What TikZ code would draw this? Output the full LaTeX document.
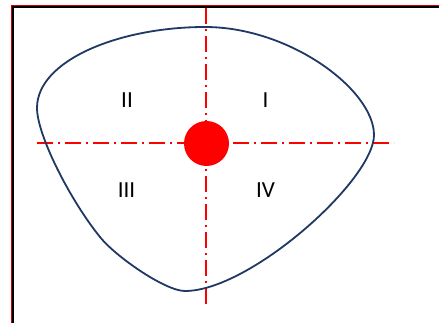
\documentclass[tikz,border=0pt]{standalone}
\usepackage{fontspec}
\setmainfont{Carlito}
\definecolor{navy}{RGB}{31,56,100}
\begin{document}
\begin{tikzpicture}[x=1pt,y=-1pt,
  axis/.style={draw=red, line width=1.6pt, dash pattern=on 16pt off 5pt on 2pt off 5pt},
  blob/.style={draw=navy, line width=1.8pt},
  quad/.style={font=\fontsize{23}{23}\selectfont, inner sep=0pt}]
\useasboundingbox (0,0) rectangle (439,323);
\fill[white] (0,0) rectangle (439,323);
% frame
\draw[red!80!black, line width=0.7pt] (11.5,323) -- (11.5,5.5) -- (439,5.5);
\draw[black, line width=1.8pt] (13,323) -- (13,7) -- (439,7);
% axes
\coordinate (hl) at (37,143);
\coordinate (hr) at (394,143);
\coordinate (vt) at (206,8);
\coordinate (vb) at (206,304);
\path[axis] (hl) -- (hr);
\path[axis] (vt) -- (vb);
% blob
\coordinate (L) at (37,108);
\coordinate (T) at (205,27);
\coordinate (R) at (374,135);
\coordinate (B) at (185,291);
\coordinate (M) at (100,237);
\path[blob] (L) .. controls (37,60) and (120,27) .. (T)
  .. controls (290,27) and (374,90) .. (R)
  .. controls (374,180) and (250,291) .. (B)
  .. controls (165,291) and (115,256) .. (M)
  .. controls (70,200) and (37,135) .. (L) -- cycle;
% center
\fill[red] (206.5,143.5) circle (22.5);
\node (c) at (206.5,143.5) {};
% labels
\node[quad] (q1) at (265.5,100.5) {I};
\node[quad] (q2) at (127,100.5) {II};
\node[quad] (q3) at (126.5,190.5) {III};
\node[quad] (q4) at (265.5,190.5) {IV};
\end{tikzpicture}
\end{document}
